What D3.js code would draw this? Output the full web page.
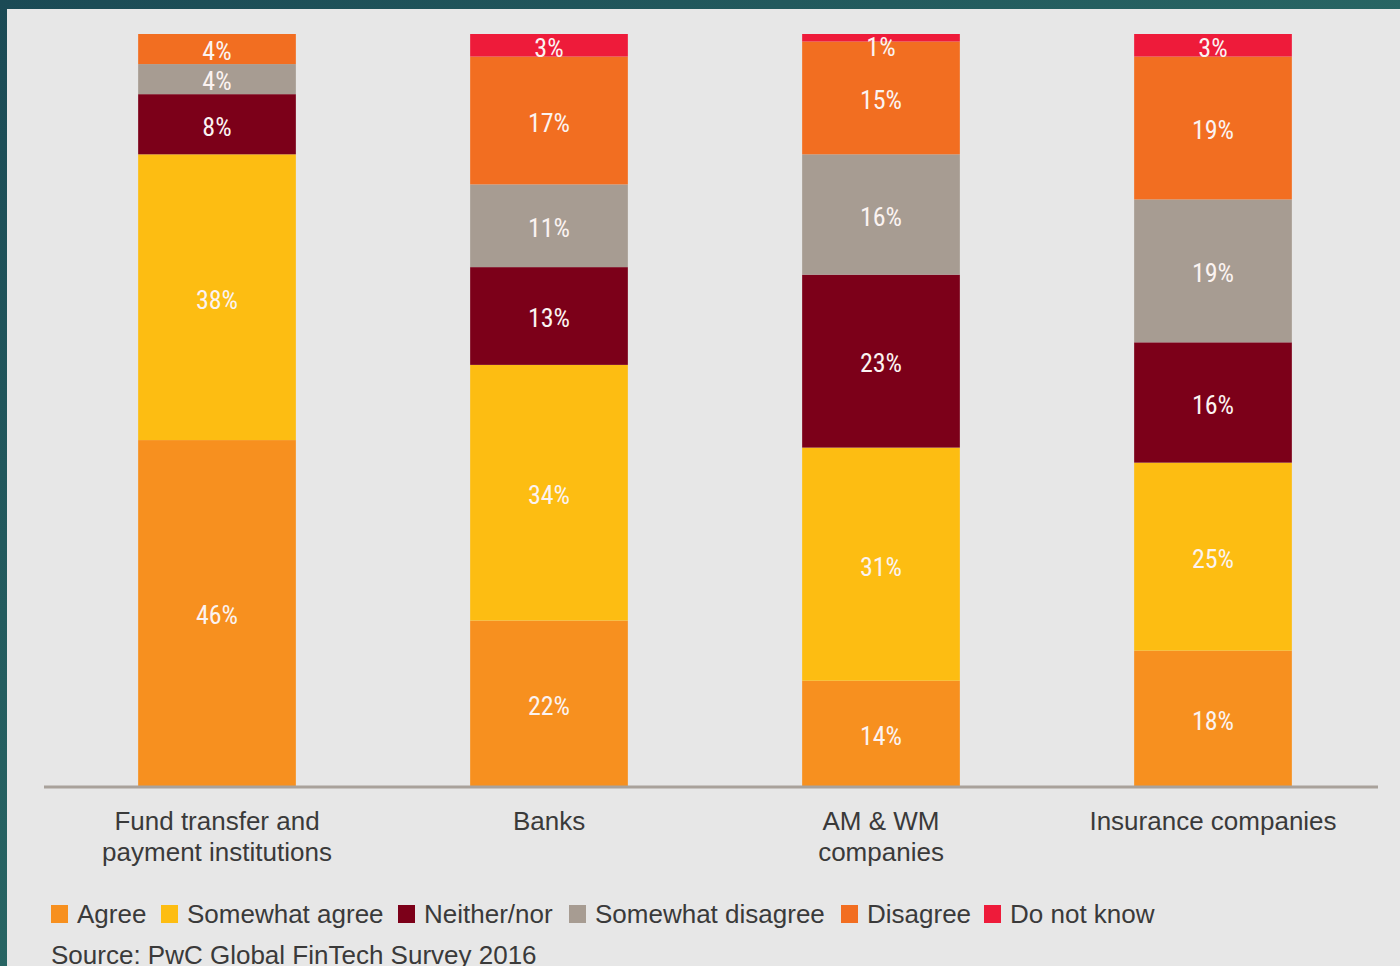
<!DOCTYPE html>
<html><head><meta charset="utf-8">
<script src="https://cdn.jsdelivr.net/npm/d3@7"></script>
<style>
html,body{margin:0;padding:0;overflow:hidden;background:#1f5459;}
svg{display:block;}
</style></head>
<body>
<svg id="chart" width="1400" height="966"></svg>
<script>
const categories = [["Fund transfer and","payment institutions"],["Banks"],["AM & WM","companies"],["Insurance companies"]];
const seriesNames = ["Agree","Somewhat agree","Neither/nor","Somewhat disagree","Disagree","Do not know"];
const agree = [46,22,14,18];
const somewhatAgree = [38,34,31,25];
const neither = [8,13,23,16];
const somewhatDisagree = [4,11,16,19];
const disagree = [4,17,15,19];
const doNotKnow = [0,3,1,3];
const colors = ["#f7901f","#fdbd12","#7c0019","#a79c92","#f26e21","#ee1b3a"];
const sourceText = "Source: PwC Global FinTech Survey 2016";

const series = [agree,somewhatAgree,neither,somewhatDisagree,disagree,doNotKnow];
const svg = d3.select("#chart");
const defs = svg.append("defs");
const g1 = defs.append("linearGradient").attr("id","teal").attr("x1","0").attr("y1","0").attr("x2","1").attr("y2","1");
g1.append("stop").attr("offset","0%").attr("stop-color","#1b4a55");
g1.append("stop").attr("offset","60%").attr("stop-color","#2a6a66");
g1.append("stop").attr("offset","100%").attr("stop-color","#1c4f56");
svg.append("rect").attr("width",1400).attr("height",966).attr("fill","url(#teal)");
svg.append("rect").attr("x",7).attr("y",9).attr("width",1393).attr("height",957).attr("fill","#e7e7e7");

const x = d3.scaleBand().domain(d3.range(categories.length)).range([51,1379]).paddingInner(0.525).paddingOuter(0.2625);
const y = d3.scaleLinear().domain([0,100]).range([786,34]);

const rows = categories.map((c,i)=>{const r={i}; seriesNames.forEach((s,k)=>r[s]=series[k][i]); return r;});
const stacked = d3.stack().keys(seriesNames)(rows);

stacked.forEach((layer,k)=>{
  const grp = svg.append("g");
  grp.selectAll("rect").data(layer.filter(d=>d[1]-d[0]>0)).join("rect")
    .attr("x",d=>x(d.data.i)).attr("width",x.bandwidth())
    .attr("y",d=>y(d[1])).attr("height",d=>y(d[0])-y(d[1]))
    .attr("fill",colors[k]);
});
stacked.forEach((layer,k)=>{
  svg.append("g").selectAll("text").data(layer.filter(d=>d[1]-d[0]>0)).join("text")
    .attr("x",d=>x(d.data.i)+x.bandwidth()/2)
    .attr("y",d=>Math.max((y(d[0])+y(d[1]))/2+2, y(d[1])+13))
    .attr("dy","0.36em")
    .attr("text-anchor","middle")
    .attr("font-family","'Liberation Sans Narrow','Roboto Condensed','Roboto',sans-serif")
    .attr("font-size",26)
    .attr("fill","#fbf3f1")
    .text(d=>(d[1]-d[0])+"%");
});

// axis
const axis = d3.axisBottom(x).tickSize(0).tickFormat(()=>"");
const ax = svg.append("g").attr("transform","translate(0,787)").call(axis);
ax.select(".domain").attr("d","M44,0H1378").attr("stroke","#a9a29b").attr("stroke-width",3);
ax.selectAll(".tick").each(function(d){
  const t = d3.select(this).append("text").attr("text-anchor","middle")
    .attr("font-family","'Liberation Sans',Arial,sans-serif").attr("font-size",26).attr("fill","#3a3a3a");
  categories[d].forEach((line,j)=>t.append("tspan").attr("x",0).attr("y",43+j*31).text(line));
});

// legend
const legendX = [51,161,398,569,841,984];
const leg = svg.append("g").attr("font-family","'Liberation Sans',Arial,sans-serif").attr("font-size",26).attr("fill","#3a3a3a");
seriesNames.forEach((s,k)=>{
  const gi = leg.append("g").attr("transform",`translate(${legendX[k]},0)`);
  gi.append("rect").attr("x",0).attr("y",905).attr("width",17).attr("height",18).attr("fill",colors[k]);
  gi.append("text").attr("x",26).attr("y",923).text(s);
});
svg.append("text").attr("x",51).attr("y",964).attr("font-family","'Liberation Sans',Arial,sans-serif").attr("font-size",26).attr("fill","#3a3a3a").text(sourceText);
</script>
</body></html>
